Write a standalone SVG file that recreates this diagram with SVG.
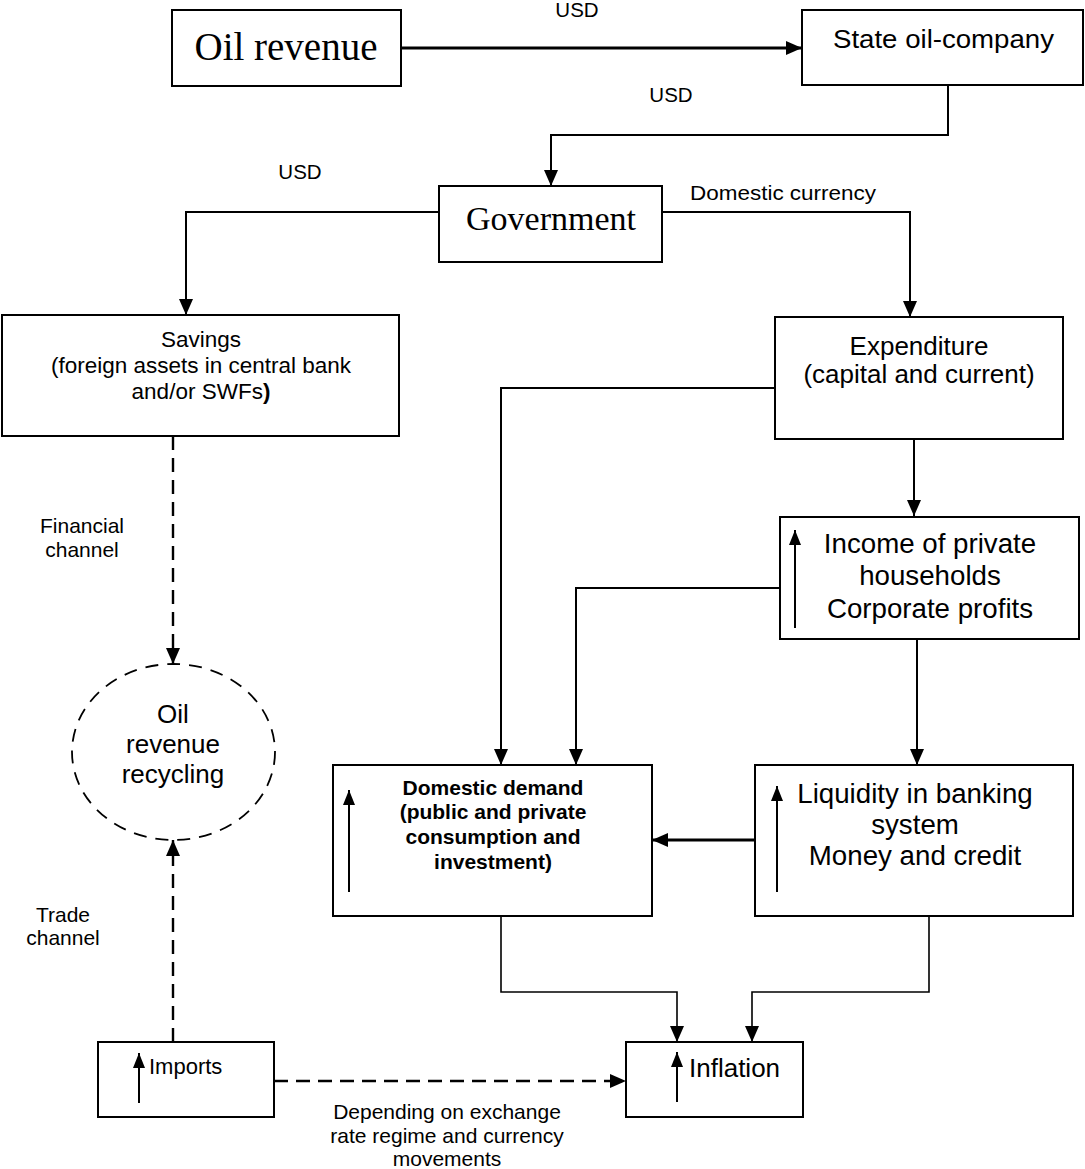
<svg xmlns="http://www.w3.org/2000/svg" width="1085" height="1169" viewBox="0 0 1085 1169">
<style>
.box{fill:#fff;stroke:#000;stroke-width:2}
.ln{fill:none;stroke:#000;stroke-width:2}
.thin{fill:none;stroke:#000;stroke-width:1.6}
.dash{fill:none;stroke:#000;stroke-width:2.4;stroke-dasharray:14 8}
.t{font-family:"Liberation Sans",Arial,sans-serif;fill:#000}
.s{font-family:"Liberation Serif","Times New Roman",serif;fill:#000}
.c{text-anchor:middle}
</style>
<defs>
<marker id="ah" markerUnits="userSpaceOnUse" markerWidth="18" markerHeight="16" refX="16" refY="7" orient="auto">
<path d="M0,0 L16,7 L0,14 z" fill="#000"/>
</marker>
<marker id="up" markerUnits="userSpaceOnUse" markerWidth="18" markerHeight="14" refX="15" refY="6" orient="auto">
<path d="M0,0 L15,6 L0,12 z" fill="#000"/>
</marker>
</defs>
<rect width="1085" height="1169" fill="#fff"/>

<g id="connectors">
<line x1="401" y1="48" x2="802" y2="48" stroke="#000" stroke-width="3" marker-end="url(#ah)"/>
<polyline class="ln" points="948,85 948,135 551,135 551,186" marker-end="url(#ah)"/>
<polyline class="ln" points="439,212 186,212 186,315" marker-end="url(#ah)"/>
<polyline class="ln" points="662,212 910,212 910,317" marker-end="url(#ah)"/>
<line class="dash" x1="173" y1="436" x2="173" y2="664" marker-end="url(#ah)"/>
<line class="dash" x1="173" y1="1042" x2="173" y2="840" marker-end="url(#ah)"/>
<polyline class="ln" points="775,388 501,388 501,765" marker-end="url(#ah)"/>
<line class="ln" x1="914" y1="439" x2="914" y2="516" marker-end="url(#ah)"/>
<polyline class="ln" points="780,588 576,588 576,765" marker-end="url(#ah)"/>
<line class="ln" x1="917" y1="639" x2="917" y2="765" marker-end="url(#ah)"/>
<line x1="755" y1="840" x2="652" y2="840" stroke="#000" stroke-width="3" marker-end="url(#ah)"/>
<polyline class="thin" points="501,916 501,992 677,992 677,1042" marker-end="url(#ah)"/>
<polyline class="thin" points="929,916 929,992 752,992 752,1042" marker-end="url(#ah)"/>
<line class="dash" x1="274" y1="1081" x2="626" y2="1081" marker-end="url(#ah)"/>
</g>

<g id="labels">
<text class="t c" x="577" y="17" font-size="20.5">USD</text>
<text class="t c" x="671" y="102" font-size="20.5">USD</text>
<text class="t c" x="300" y="179" font-size="20.5">USD</text>
<text class="t" x="690" y="200" font-size="21" textLength="186" lengthAdjust="spacingAndGlyphs">Domestic currency</text>
<text class="t c" x="82" y="533" font-size="21">Financial</text>
<text class="t c" x="82" y="557" font-size="21">channel</text>
<text class="t c" x="63" y="922" font-size="21">Trade</text>
<text class="t c" x="63" y="945" font-size="21">channel</text>
<text class="t c" x="447" y="1119" font-size="21">Depending on exchange</text>
<text class="t c" x="447" y="1143" font-size="21">rate regime and currency</text>
<text class="t c" x="447" y="1166" font-size="21">movements</text>
</g>

<g id="oil-revenue">
<rect class="box" x="172" y="10" width="229" height="76"/>
<text class="s c" x="286" y="60" font-size="39">Oil revenue</text>
</g>

<g id="state-oil-company">
<rect class="box" x="802" y="10" width="281" height="75"/>
<text class="t" x="833" y="48" font-size="25" textLength="221" lengthAdjust="spacingAndGlyphs">State oil-company</text>
</g>

<g id="government">
<rect class="box" x="439" y="186" width="223" height="76"/>
<text class="s c" x="551" y="230" font-size="34">Government</text>
</g>

<g id="savings">
<rect class="box" x="2" y="315" width="397" height="121"/>
<text class="t c" x="201" y="347" font-size="22.5">Savings</text>
<text class="t c" x="201" y="373" font-size="22.5">(foreign assets in central bank</text>
<text class="t c" x="201" y="399" font-size="22.5">and/or SWFs<tspan font-weight="bold">)</tspan></text>
</g>

<g id="expenditure">
<rect class="box" x="775" y="317" width="288" height="122"/>
<text class="t c" x="919" y="355" font-size="26">Expenditure</text>
<text class="t c" x="919" y="383" font-size="26">(capital and current)</text>
</g>

<g id="income">
<rect class="box" x="780" y="517" width="299" height="122"/>
<line class="ln" x1="795" y1="628" x2="795" y2="530" marker-end="url(#up)"/>
<text class="t c" x="930" y="553" font-size="27.7">Income of private</text>
<text class="t c" x="930" y="585" font-size="27.7">households</text>
<text class="t c" x="930" y="618" font-size="27.7">Corporate profits</text>
</g>

<g id="oil-revenue-recycling">
<ellipse cx="173.5" cy="752" rx="101.5" ry="88" fill="none" stroke="#000" stroke-width="1.8" stroke-dasharray="13 9"/>
<text class="t c" x="173" y="723" font-size="26">Oil</text>
<text class="t c" x="173" y="753" font-size="26">revenue</text>
<text class="t c" x="173" y="783" font-size="26">recycling</text>
</g>

<g id="domestic-demand">
<rect class="box" x="333" y="765" width="319" height="151"/>
<line class="ln" x1="349" y1="892" x2="349" y2="790" marker-end="url(#up)"/>
<text class="t c" x="493" y="795" font-size="21" font-weight="bold">Domestic demand</text>
<text class="t c" x="493" y="819" font-size="21" font-weight="bold">(public and private</text>
<text class="t c" x="493" y="844" font-size="21" font-weight="bold">consumption and</text>
<text class="t c" x="493" y="869" font-size="21" font-weight="bold">investment)</text>
</g>

<g id="liquidity">
<rect class="box" x="755" y="765" width="318" height="151"/>
<line class="ln" x1="777" y1="892" x2="777" y2="786" marker-end="url(#up)"/>
<text class="t c" x="915" y="803" font-size="27.7">Liquidity in banking</text>
<text class="t c" x="915" y="834" font-size="27.7">system</text>
<text class="t c" x="915" y="865" font-size="27.7">Money and credit</text>
</g>

<g id="imports">
<rect class="box" x="98" y="1042" width="176" height="75"/>
<line class="ln" x1="139" y1="1103" x2="139" y2="1053" marker-end="url(#up)"/>
<text class="t" x="149" y="1074" font-size="22">Imports</text>
</g>

<g id="inflation">
<rect class="box" x="626" y="1042" width="177" height="75"/>
<line class="ln" x1="677" y1="1102" x2="677" y2="1052" marker-end="url(#up)"/>
<text class="t" x="689" y="1077" font-size="26">Inflation</text>
</g>
</svg>
